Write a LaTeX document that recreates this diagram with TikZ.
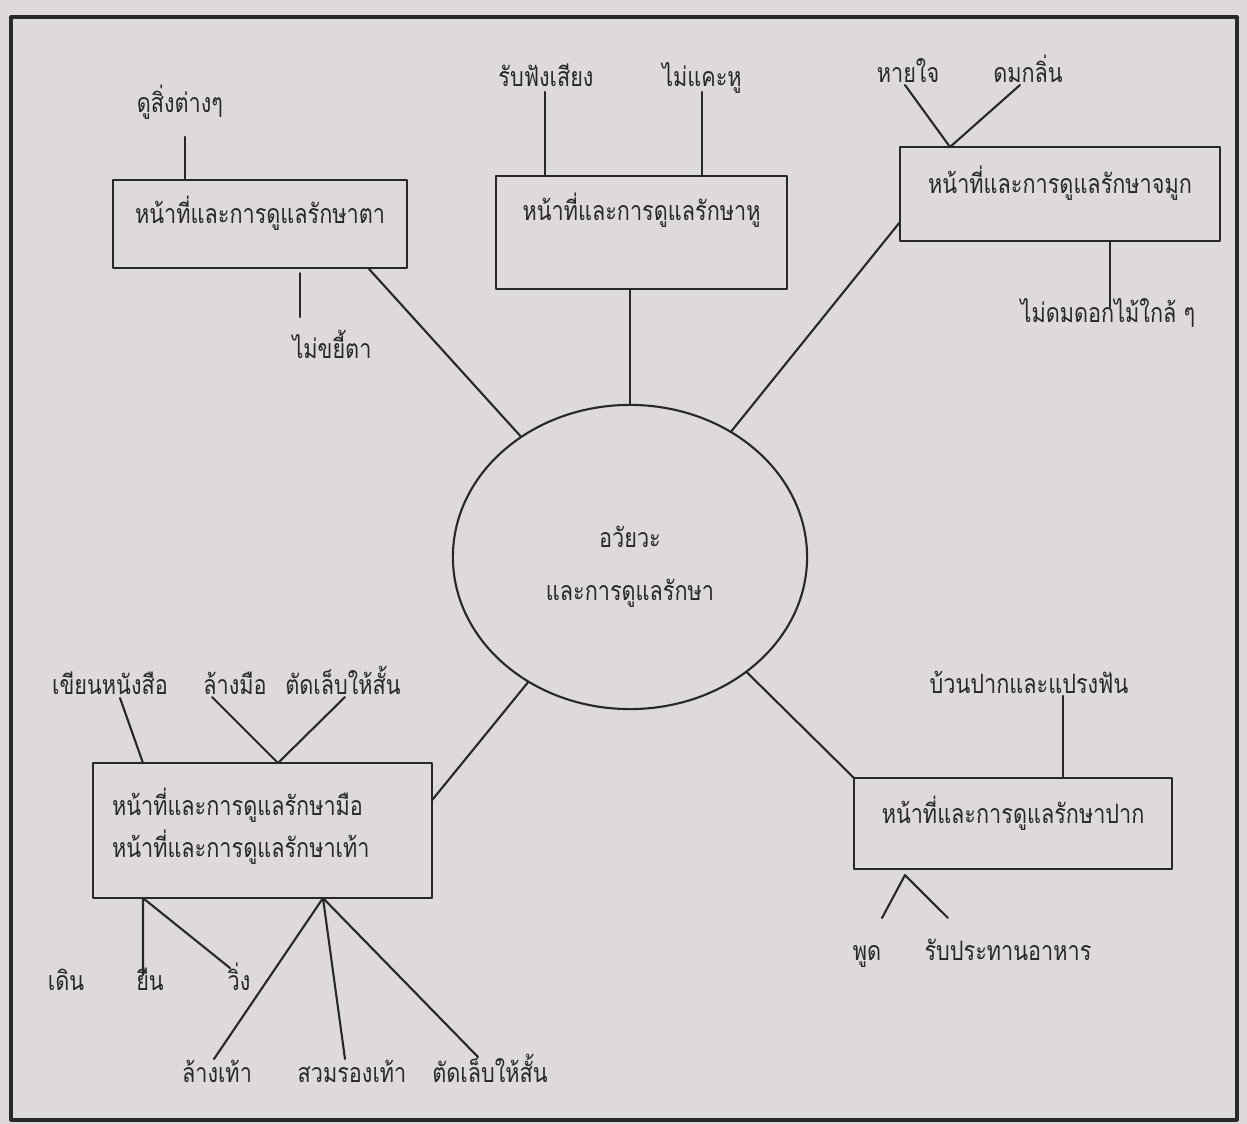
\documentclass[tikz,border=0pt]{standalone}
\usepackage{fontspec}
\newfontfamily\thaifont[Script=Thai,FakeStretch=0.81]{Loma}
\usetikzlibrary{shapes.geometric,calc}
\definecolor{paper}{RGB}{222,218,218}
\definecolor{ink}{RGB}{40,40,40}
\begin{document}
\begin{tikzpicture}[x=0.01cm,y=-0.01cm,line join=round,line cap=round,
  every node/.style={font=\thaifont\fontsize{7.6}{12}\selectfont,text=ink},
  box/.style={draw=ink,line width=.6pt,rectangle,anchor=north west,inner sep=0pt,outer sep=0pt},
  leaf/.style={anchor=base,inner sep=0pt},
  link/.style={draw=ink,line width=.6pt}]
\fill[paper] (0,0) rectangle (1247,1124);
\useasboundingbox (0,0) rectangle (1247,1124);
\draw[ink,line width=.9pt] (11,17) rectangle (1237,1120);
% centre
\node[draw=ink,line width=.6pt,ellipse,minimum width=3.54cm,minimum height=3.04cm,inner sep=0pt,
  align=center,text height=1cm,text depth=.14cm,
  font=\thaifont\fontsize{7.6}{15}\selectfont] (organ) at (630,557) {อวัยวะ\\และการดูแลรักษา};
% boxes
\node[box,minimum width=2.94cm,text height=.43cm,text depth=.45cm] (eye) at (113,180) {หน้าที่และการดูแลรักษาตา};
\node[box,minimum width=2.91cm,text height=.44cm,text depth=.69cm] (ear) at (496,176) {หน้าที่และการดูแลรักษาหู};
\node[box,minimum width=3.20cm,text height=.46cm,text depth=.48cm] (nose) at (900,147) {หน้าที่และการดูแลรักษาจมูก};
\node[box,text width=3.01cm,inner xsep=.19cm,align=left,text height=.52cm,text depth=.83cm] (limb) at (93,763)
  {หน้าที่และการดูแลรักษามือ\\หน้าที่และการดูแลรักษาเท้า};
\node[box,minimum width=3.18cm,text height=.45cm,text depth=.46cm] (mouth) at (854,778) {หน้าที่และการดูแลรักษาปาก};
% leaves
\node[leaf] (see) at (180,113) {ดูสิ่งต่างๆ};
\node[leaf] (rub) at (332,358) {ไม่ขยี้ตา};
\node[leaf] (hear) at (546,87) {รับฟังเสียง};
\node[leaf] (pick) at (702,87) {ไม่แคะหู};
\node[leaf] (breathe) at (908,83) {หายใจ};
\node[leaf] (smell) at (1028,83) {ดมกลิ่น};
\node[leaf] (sniff) at (1108,323) {ไม่ดมดอกไม้ใกล้ ๆ};
\node[leaf] (write) at (110,695) {เขียนหนังสือ};
\node[leaf] (washh) at (235,695) {ล้างมือ};
\node[leaf] (cuth) at (343,695) {ตัดเล็บให้สั้น};
\node[leaf] (walk) at (66,990) {เดิน};
\node[leaf] (stand) at (150,990) {ยืน};
\node[leaf] (run) at (239,990) {วิ่ง};
\node[leaf] (washf) at (217,1083) {ล้างเท้า};
\node[leaf] (shoe) at (352,1083) {สวมรองเท้า};
\node[leaf] (cutf) at (490,1083) {ตัดเล็บให้สั้น};
\node[leaf] (brush) at (1029,693) {บ้วนปากและแปรงฟัน};
\node[leaf] (speak) at (867,960) {พูด};
\node[leaf] (eat) at (1008,960) {รับประทานอาหาร};
% spokes
\draw[link] ($(eye.south east)+(-39,0)$) -- (organ);
\draw[link] ($(ear.south west)+(134,0)$) -- (organ);
\draw[link] ($(nose.north west)+(0,75)$) -- (organ);
\draw[link] ($(limb.north east)+(0,37)$) -- (organ);
\draw[link] (mouth.north west) -- (organ);
% eye
\draw[link] ($(see.base)+(5,24)$) coordinate (e1) -- (e1 |- eye.north);
\draw[link,shorten >=.05cm] ($(rub.base)+(-32,-41)$) coordinate (e2) -- (e2 |- eye.south);
% ear
\draw[link] ($(hear.base)+(-1,5)$) coordinate (h1) -- (h1 |- ear.north);
\draw[link] ($(pick.base)+(0,5)$) coordinate (h2) -- (h2 |- ear.north);
% nose
\coordinate (nosetop) at ($(nose.north west)+(50,0)$);
\draw[link] ($(breathe.base)+(-3,2)$) -- (nosetop) -- ($(smell.base)+(-8,2)$);
\draw[link] ($(sniff.base)+(2,-16)$) coordinate (n1) -- (n1 |- nose.south);
% hands
\coordinate (handtop) at ($(limb.north west)+(185,0)$);
\draw[link] ($(write.base)+(10,3)$) -- ($(limb.north west)+(50,0)$);
\draw[link] ($(washh.base)+(-23,2)$) -- (handtop) -- ($(cuth.base)+(2,2)$);
% feet
\coordinate (legs) at ($(limb.south west)+(50,0)$);
\coordinate (feet) at ($(limb.south west)+(230,0)$);
\draw[link] ($(stand.base)+(-7,-15)$) -- (legs) -- ($(run.base)+(-9,-22)$);
\draw[link] ($(washf.base)+(-3,-24)$) -- (feet) -- ($(shoe.base)+(-7,-24)$);
\draw[link] (feet) -- ($(cutf.base)+(-12,-26)$);
% mouth
\draw[link] ($(brush.base)+(34,3)$) coordinate (m1) -- (m1 |- mouth.north);
\coordinate (mouthv) at ($(mouth.south west)+(51,6)$);
\draw[link] ($(speak.base)+(15,-42)$) -- (mouthv) -- ($(eat.base)+(-60,-42)$);
\end{tikzpicture}
\end{document}
